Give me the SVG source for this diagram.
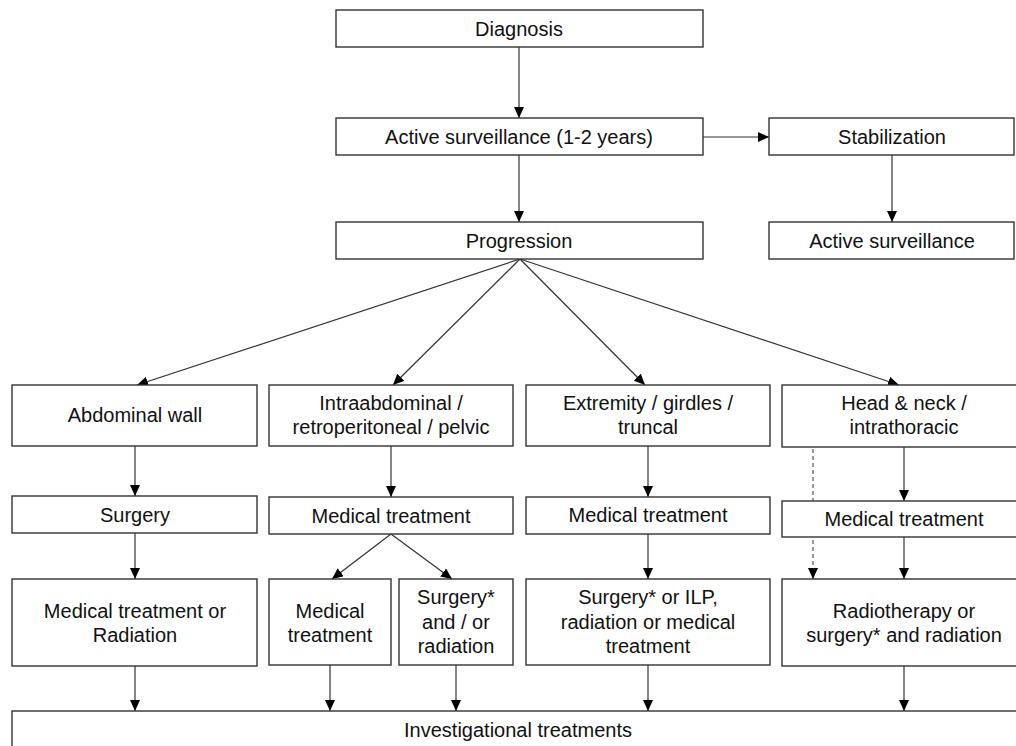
<svg xmlns="http://www.w3.org/2000/svg" width="1016" height="746" viewBox="0 0 1016 746">
<style>
.box{fill:#fff;stroke:#333;stroke-width:1.4}
.t{font-family:"Liberation Sans",Arial,sans-serif;font-size:20px;fill:#111;text-anchor:middle}
.c{fill:none;stroke:#333;stroke-width:1.2;marker-end:url(#ah)}
.d{fill:none;stroke:#555;stroke-width:1.2;stroke-dasharray:4 3;marker-end:url(#ah)}
</style>
<defs>
<marker id="ah" markerUnits="userSpaceOnUse" markerWidth="12" markerHeight="10" refX="11" refY="5" orient="auto">
<path d="M0,0 L11,5 L0,10 Z" fill="#000"/>
</marker>
</defs>
<rect width="1016" height="746" fill="#fff"/>
<g id="connectors">
<line class="c" x1="519" y1="47" x2="519" y2="118"/>
<line class="c" x1="519" y1="155" x2="519" y2="222"/>
<line class="c" x1="703" y1="137" x2="769" y2="137"/>
<line class="c" x1="892" y1="155" x2="892" y2="222"/>
<line class="c" x1="520" y1="259" x2="137" y2="385"/>
<line class="c" x1="520" y1="259" x2="393" y2="385"/>
<line class="c" x1="520" y1="259" x2="645" y2="385"/>
<line class="c" x1="520" y1="259" x2="899" y2="385"/>
<line class="c" x1="135" y1="446" x2="135" y2="496"/>
<line class="c" x1="135" y1="533" x2="135" y2="579"/>
<line class="c" x1="391" y1="446" x2="391" y2="497"/>
<line class="c" x1="391" y1="534" x2="332" y2="579"/>
<line class="c" x1="391" y1="534" x2="452" y2="579"/>
<line class="c" x1="648" y1="446" x2="648" y2="497"/>
<line class="c" x1="648" y1="534" x2="648" y2="579"/>
<line class="c" x1="904" y1="447" x2="904" y2="501"/>
<line class="c" x1="904" y1="537" x2="904" y2="579"/>
<line class="d" x1="813" y1="449" x2="813" y2="579"/>
<line class="c" x1="135" y1="666" x2="135" y2="711"/>
<line class="c" x1="330" y1="665" x2="330" y2="711"/>
<line class="c" x1="456" y1="665" x2="456" y2="711"/>
<line class="c" x1="648" y1="665" x2="648" y2="711"/>
<line class="c" x1="904" y1="666" x2="904" y2="711"/>
</g>
<g id="diagnosis"><rect class="box" x="336" y="10" width="367" height="37"/><text class="t" x="519" y="35.5">Diagnosis</text></g>
<g id="active-surveillance-1"><rect class="box" x="336" y="118" width="367" height="37"/><text class="t" x="519" y="143.5">Active surveillance (1-2 years)</text></g>
<g id="stabilization"><rect class="box" x="769" y="118" width="245" height="37"/><text class="t" x="892" y="143.5">Stabilization</text></g>
<g id="progression"><rect class="box" x="336" y="222" width="367" height="37"/><text class="t" x="519" y="247.5">Progression</text></g>
<g id="active-surveillance-2"><rect class="box" x="769" y="222" width="245" height="37"/><text class="t" x="892" y="247.5">Active surveillance</text></g>
<g id="abdominal-wall"><rect class="box" x="12" y="385" width="245" height="61"/><text class="t" x="135" y="422">Abdominal wall</text></g>
<g id="intraabdominal"><rect class="box" x="269" y="385" width="244" height="61"/><text class="t" x="391" y="410">Intraabdominal /</text><text class="t" x="391" y="434">retroperitoneal / pelvic</text></g>
<g id="extremity"><rect class="box" x="526" y="385" width="244" height="61"/><text class="t" x="648" y="410">Extremity / girdles /</text><text class="t" x="648" y="434">truncal</text></g>
<g id="head-neck"><rect class="box" x="782" y="385" width="240" height="62"/><text class="t" x="904" y="410">Head &amp; neck /</text><text class="t" x="904" y="434">intrathoracic</text></g>
<g id="surgery"><rect class="box" x="12" y="496" width="245" height="37"/><text class="t" x="135" y="521.5">Surgery</text></g>
<g id="medical-2"><rect class="box" x="269" y="497" width="244" height="37"/><text class="t" x="391" y="522.5">Medical treatment</text></g>
<g id="medical-3"><rect class="box" x="526" y="497" width="244" height="37"/><text class="t" x="648" y="521.5">Medical treatment</text></g>
<g id="medical-4"><rect class="box" x="782" y="501" width="240" height="36"/><text class="t" x="904" y="526">Medical treatment</text></g>
<g id="medical-or-radiation"><rect class="box" x="12" y="579" width="245" height="87"/><text class="t" x="135" y="617.5">Medical treatment or</text><text class="t" x="135" y="641.5">Radiation</text></g>
<g id="medical-small"><rect class="box" x="269" y="579" width="122" height="86"/><text class="t" x="330" y="617.5">Medical</text><text class="t" x="330" y="641.5">treatment</text></g>
<g id="surgery-radiation"><rect class="box" x="399" y="579" width="114" height="86"/><text class="t" x="456" y="604">Surgery*</text><text class="t" x="456" y="629">and / or</text><text class="t" x="456" y="653">radiation</text></g>
<g id="surgery-ilp"><rect class="box" x="526" y="579" width="244" height="86"/><text class="t" x="648" y="604">Surgery* or ILP,</text><text class="t" x="648" y="628.5">radiation or medical</text><text class="t" x="648" y="653">treatment</text></g>
<g id="radiotherapy"><rect class="box" x="782" y="579" width="240" height="87"/><text class="t" x="904" y="617.5">Radiotherapy or</text><text class="t" x="904" y="641.5">surgery* and radiation</text></g>
<g id="investigational"><rect class="box" x="12" y="711" width="1020" height="50"/><text class="t" x="518" y="736.5">Investigational treatments</text></g>
</svg>
